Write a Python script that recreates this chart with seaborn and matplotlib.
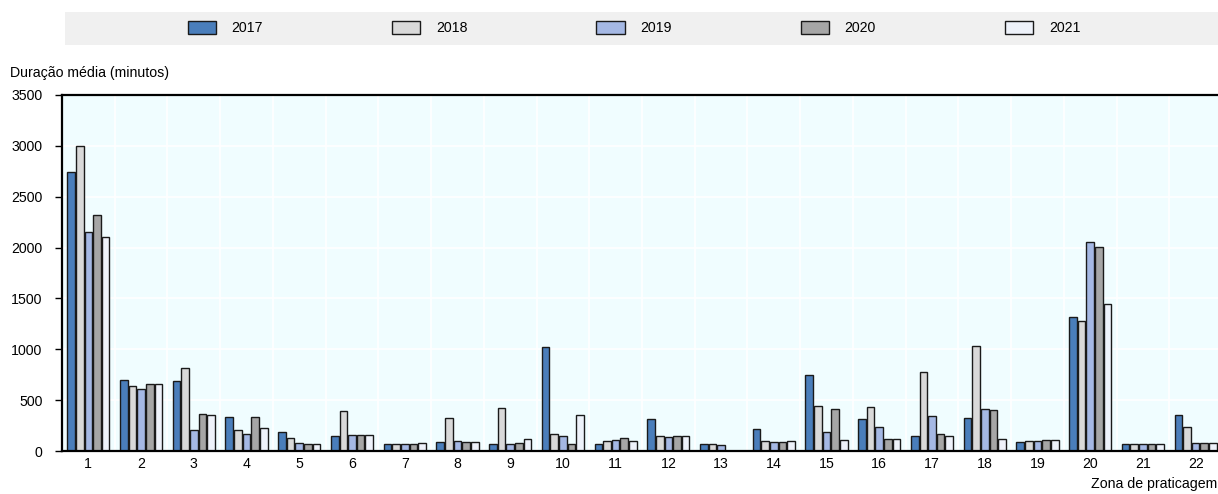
import numpy as np
import pandas as pd
import matplotlib
matplotlib.use("Agg")
import matplotlib.pyplot as plt
from matplotlib.patches import Rectangle
from matplotlib.ticker import MultipleLocator, FixedLocator
import seaborn as sns

# Average duration (minutes) per pilotage zone and year
zonas = [str(i) for i in range(1, 23)]
anos = ["2017", "2018", "2019", "2020", "2021"]

v2017 = [2740, 700, 687, 334, 190, 150, 69, 92, 72, 1021, 72, 314, 65, 216, 752, 317, 150, 327, 92, 1318, 69, 350]
v2018 = [3000, 641, 818, 203, 128, 393, 65, 321, 419, 167, 98, 150, 65, 95, 445, 429, 779, 1031, 98, 1282, 69, 236]
v2019 = [2150, 605, 206, 164, 82, 160, 65, 95, 72, 150, 111, 134, 59, 92, 186, 236, 340, 409, 101, 2051, 72, 82]
v2020 = [2323, 654, 363, 334, 65, 160, 65, 92, 75, 69, 131, 144, np.nan, 85, 412, 121, 164, 406, 105, 2002, 72, 79]
v2021 = [2107, 654, 350, 229, 65, 157, 78, 92, 118, 350, 98, 144, np.nan, 95, 105, 121, 144, 118, 108, 1449, 72, 79]

cores = ["#4A7EBB", "#D9D9D9", "#A5B8E4", "#A6A6A6", "#EEF2FA"]

df = pd.DataFrame({
    "zona": zonas * 5,
    "ano": np.repeat(anos, len(zonas)),
    "valor": v2017 + v2018 + v2019 + v2020 + v2021,
})

FS = 10.2
sns.set_style("white")
plt.rcParams["font.family"] = ["Liberation Sans", "DejaVu Sans"]
plt.rcParams["font.size"] = FS
for key in ["text.color", "xtick.color", "ytick.color", "xtick.labelcolor", "ytick.labelcolor"]:
    plt.rcParams[key] = "black"

fig = plt.figure(figsize=(12.18, 4.94), dpi=100)
ax = fig.add_axes([62 / 1218, 1 - 451 / 494, 1160 / 1218, (451 - 95) / 494])
ax.set_facecolor("#F0FDFF")

sns.barplot(data=df, x="zona", y="valor", hue="ano", order=zonas, hue_order=anos,
            palette=cores, edgecolor="#1a1a1a", linewidth=1.0, width=0.82, gap=0.12,
            saturation=1, ax=ax, legend=True)

ax.set_ylim(0, 3500)
ax.set_xlim(-0.5, len(zonas) - 0.5)
ax.yaxis.set_major_locator(MultipleLocator(500))
ax.xaxis.set_minor_locator(FixedLocator(np.arange(0.5, len(zonas) - 0.5, 1)))
ax.grid(True, axis="y", which="major", color="white", linewidth=1.2)
ax.grid(True, axis="x", which="minor", color="white", linewidth=1.2)
ax.set_axisbelow(True)

for side in ["left", "bottom", "top"]:
    ax.spines[side].set_visible(True)
    ax.spines[side].set_color("black")
    ax.spines[side].set_linewidth(1.6)
ax.spines["right"].set_visible(False)

ax.tick_params(axis="y", which="major", left=True, length=5, width=1, color="black",
               labelsize=FS, pad=9)
ax.tick_params(axis="x", which="both", bottom=False, length=0, labelsize=FS, pad=4)
ax.set_xlabel("")
ax.set_ylabel("")

# Legend strip across the top
fig.patches.append(Rectangle((65 / 1218, 1 - 45 / 494), (1218 - 65) / 1218, 33 / 494,
                             transform=fig.transFigure, facecolor="#F0F0F0",
                             edgecolor="none", zorder=0))
handles, labels = ax.get_legend_handles_labels()
ax.get_legend().remove()
leg = fig.legend(handles, labels, loc="center left", ncol=5,
                 bbox_to_anchor=(175 / 1218, 1 - 28 / 494), frameon=False,
                 handlelength=2.0, handleheight=1.0, handletextpad=1.1,
                 columnspacing=9.1, fontsize=FS)

fig.text(10 / 1218, 1 - 73 / 494, "Duração média (minutos)", ha="left", va="center",
         fontsize=FS)
fig.text(0.9995, 1 - 484 / 494, "Zona de praticagem", ha="right", va="center",
         fontsize=FS)

fig.savefig("out.png", dpi=100)
